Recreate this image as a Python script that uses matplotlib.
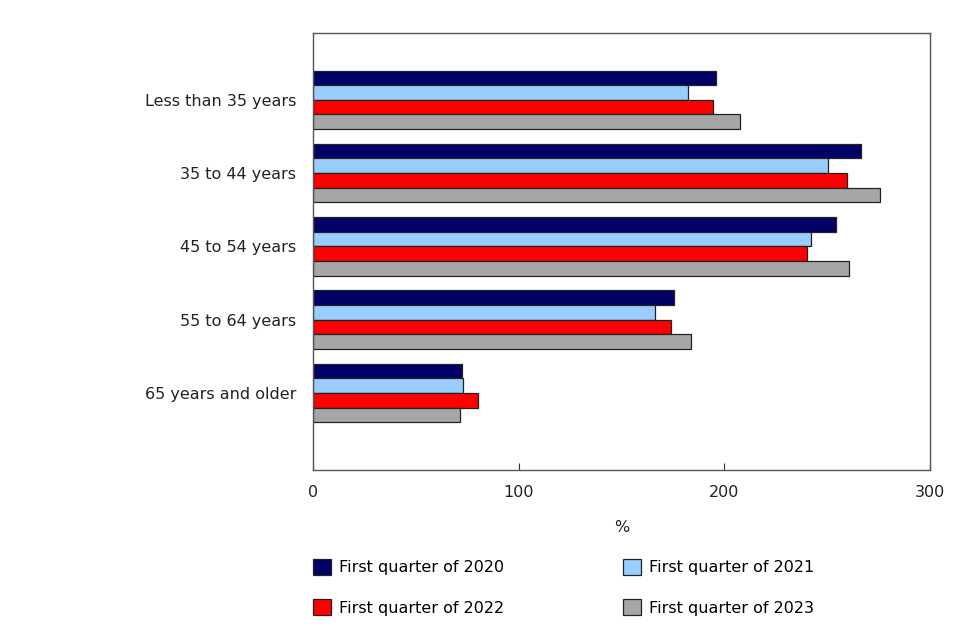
import numpy as np
import matplotlib
matplotlib.use('Agg')
from matplotlib import pyplot as plt

CATEGORIES = ['Less than 35 years', '35 to 44 years', '45 to 54 years',
              '55 to 64 years', '65 years and older']
SERIES = ['First quarter of 2020', 'First quarter of 2021',
          'First quarter of 2022', 'First quarter of 2023']
Q1_2020 = [196.0, 266.5, 254.5, 175.7, 72.3]
Q1_2021 = [182.5, 250.5, 242.2, 166.1, 73.1]
Q1_2022 = [194.6, 259.7, 240.3, 173.9, 80.2]
Q1_2023 = [207.8, 275.9, 260.7, 183.9, 71.3]
X_TICKS = [0, 100, 200, 300]

COLORS = ['#000066', '#99ccff', '#ff0000', '#a6a6a6']

plt.rcParams['font.family'] = 'DejaVu Sans'
plt.rcParams['font.size'] = 11.5

fig = plt.figure(figsize=(9.8, 6.25), dpi=100)
ax = fig.add_axes([0.3194, 0.248, 0.6296, 0.699])

y = np.arange(len(CATEGORIES))
h = 0.2
offsets = [-0.3, -0.1, 0.1, 0.3]
for vals, off, col, lab in zip([Q1_2020, Q1_2021, Q1_2022, Q1_2023],
                               offsets, COLORS, SERIES):
    ax.barh(y + off, vals, height=h, color=col, edgecolor='#222222',
            linewidth=0.9, label=lab)

ax.set_xlim(0, 300)
ax.set_ylim(len(CATEGORIES) - 1 + 1.05, -0.91)
ax.set_xticks(X_TICKS)
ax.set_yticks(y)
ax.set_yticklabels(CATEGORIES, color='#222222')
ax.tick_params(axis='y', length=0, pad=12)
ax.tick_params(axis='x', direction='in', length=5, color='#333333',
               pad=11, labelcolor='#222222')
for s in ax.spines.values():
    s.set_color('#555555')
    s.set_linewidth(1.0)
ax.set_xlabel('%', color='#222222', labelpad=14)

# legend rows: 2020, 2021 / 2022, 2023 (matplotlib fills column by column)
handles, labels = ax.get_legend_handles_labels()
order = [0, 2, 1, 3]
fig.legend([handles[i] for i in order], [labels[i] for i in order],
           loc='upper left', bbox_to_anchor=(0.3194, 0.1056),
           ncol=2, frameon=False, handlelength=1.15, handleheight=1.15,
           handletextpad=0.5, columnspacing=7.4, labelspacing=1.5,
           borderaxespad=0, borderpad=0)

plt.savefig('out.png', dpi=100)
plt.close()
